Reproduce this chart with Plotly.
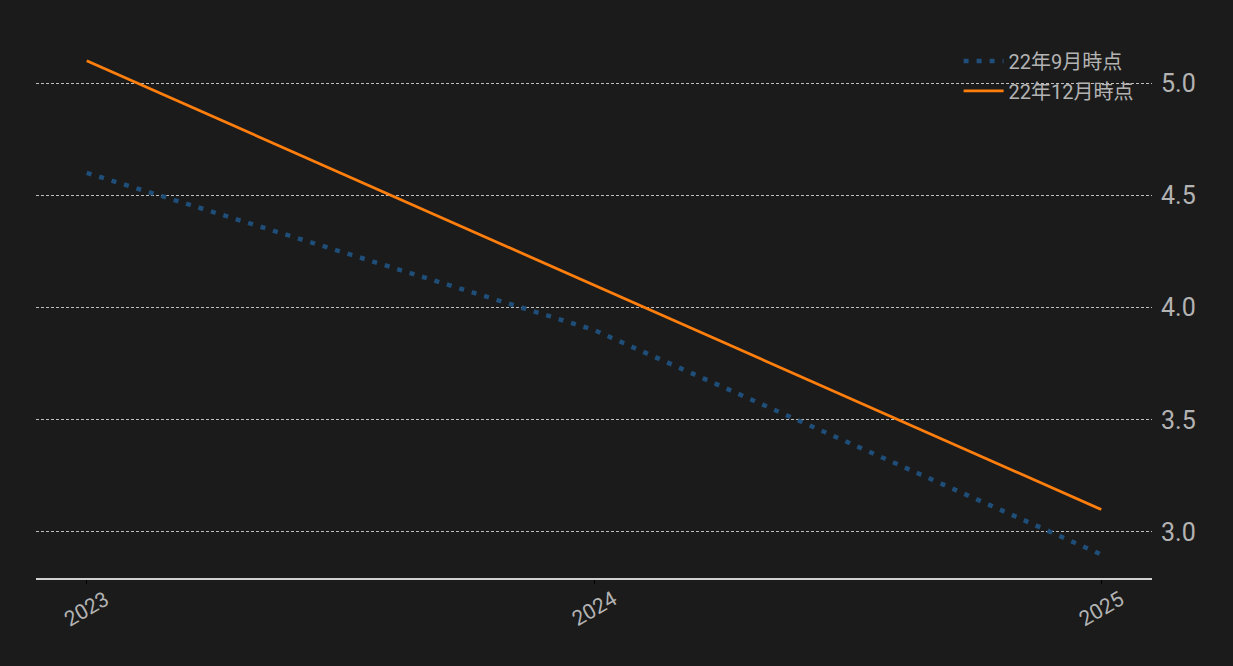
import plotly.graph_objects as go

years = [2023, 2024, 2025]
sep_values = [4.6, 3.9, 2.9]
dec_values = [5.1, 4.1, 3.1]
series_names = ["22年9月時点", "22年12月時点"]
y_ticks = [3.0, 3.5, 4.0, 4.5, 5.0]
y_tick_labels = ["3.0", "3.5", "4.0", "4.5", "5.0"]
x_tick_labels = ["2023", "2024", "2025"]

FONT = "Roboto, Noto Sans CJK JP, sans-serif"
BG = "#1b1b1b"
TXT = "#b3b3b3"

fig = go.Figure()
fig.add_trace(go.Scatter(
    x=years, y=sep_values, mode="lines", name=series_names[0], legendgroup="a",
    line=dict(color="#1f4e79", width=4.5, dash="5px,8px"),
))
fig.add_trace(go.Scatter(
    x=years, y=dec_values, mode="lines", name=series_names[1], legendgroup="b",
    line=dict(color="#ff7f0e", width=2.8),
))

for yr, lab in zip(years, x_tick_labels):
    fig.add_annotation(
        x=yr, xref="x", y=0, yref="paper", yshift=-31,
        text=lab, showarrow=False, textangle=-30,
        xanchor="center", yanchor="middle",
        font=dict(family=FONT, size=21, color=TXT),
    )

fig.update_layout(
    width=1233, height=666,
    paper_bgcolor=BG, plot_bgcolor=BG,
    margin=dict(l=36, r=81, t=36, b=88),
    font=dict(family=FONT, color=TXT),
    showlegend=True,
    legend=dict(
        x=0.988, xanchor="right", y=0.99, yanchor="top",
        bgcolor="rgba(0,0,0,0)", font=dict(size=20, color=TXT),
        traceorder="grouped", tracegroupgap=1, itemwidth=40,
    ),
    xaxis=dict(
        range=[2022.9, 2025.1],
        tickmode="array", tickvals=years, ticktext=x_tick_labels,
        showticklabels=False,
        showgrid=False, zeroline=False,
        showline=True, linecolor="#d0d0d0", linewidth=2,
        ticks="outside", ticklen=4, tickcolor="#000000", tickwidth=1,
    ),
    yaxis=dict(
        range=[2.795, 5.21], side="right",
        tickmode="array", tickvals=y_ticks, ticktext=y_tick_labels,
        tickfont=dict(size=25, color=TXT),
        showgrid=True, gridcolor="#bfbfbf", gridwidth=0.7, griddash="3px,2px",
        zeroline=False, showline=False, ticks="", ticklabelstandoff=8,
    ),
)

fig.write_html(
    "out.html",
    config={"displayModeBar": False},
    post_script="document.body.style.margin='0';document.body.style.background='#1b1b1b';",
)
